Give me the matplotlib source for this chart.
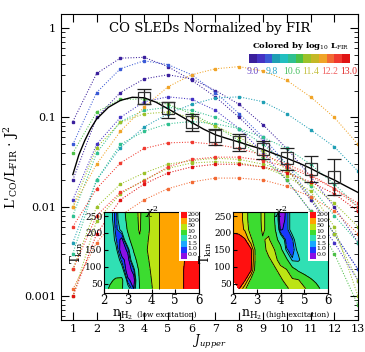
import numpy as np
import matplotlib.pyplot as plt
from matplotlib.colors import ListedColormap

plt.rcParams['font.family'] = 'DejaVu Serif'
plt.rcParams['mathtext.fontset'] = 'dejavuserif'

# colour scale for log10 L_FIR
lfir_colors = ['#3a1f9c', '#4433c4', '#3a5ad6', '#1f9fb4', '#22bfc0', '#2fc090',
               '#4cc046', '#9cc22a', '#c4b826', '#f0a428', '#f26a34', '#f03a30', '#e01414']
lfir_ticks = ['9.0', '9.8', '10.6', '11.4', '12.2', '13.0']
lfir_tick_colors = ['#6a48c8', '#2aa6c8', '#46c060', '#c4c040', '#f06464', '#e02828']

# individual SLEDs (L'CO/LFIR * J^2 at J = 1..13)
j_up = [1, 2, 3, 4, 5, 6, 7, 8, 9, 10, 11, 12, 13]
sled_90 = [0.09, 0.31, 0.46, 0.47, 0.37, 0.26, 0.17, 0.10, 0.055, 0.027, 0.012, 0.005, 0.002]
sled_92 = [0.02, 0.10, 0.19, 0.27, 0.30, 0.27, 0.20, 0.14, 0.083, 0.045, 0.022, 0.010, 0.004]
sled_95 = [0.012, 0.05, 0.10, 0.15, 0.17, 0.16, 0.12, 0.075, 0.04, 0.02, 0.009, 0.004, 0.0015]
sled_98 = [0.05, 0.19, 0.35, 0.43, 0.39, 0.30, 0.19, 0.11, 0.06, 0.03, 0.013, 0.005, 0.002]
sled_100 = [0.004, 0.02, 0.046, 0.078, 0.11, 0.14, 0.165, 0.17, 0.15, 0.11, 0.073, 0.047, 0.025]
sled_106 = [0.003, 0.02, 0.05, 0.07, 0.085, 0.09, 0.085, 0.075, 0.06, 0.045, 0.03, 0.018, 0.01]
sled_108 = [0.008, 0.04, 0.09, 0.12, 0.13, 0.12, 0.10, 0.075, 0.05, 0.03, 0.017, 0.008, 0.004]
sled_110 = [0.04, 0.115, 0.16, 0.16, 0.14, 0.11, 0.08, 0.055, 0.035, 0.02, 0.009, 0.003, 0.0008]
sled_112 = [0.01, 0.046, 0.088, 0.11, 0.115, 0.10, 0.08, 0.06, 0.042, 0.026, 0.013, 0.005, 0.0015]
sled_113 = [0.001, 0.007, 0.014, 0.02, 0.027, 0.031, 0.032, 0.031, 0.028, 0.022, 0.015, 0.006, 0.001]
sled_114 = [0.002, 0.01, 0.018, 0.024, 0.03, 0.033, 0.035, 0.034, 0.03, 0.025, 0.018, 0.011, 0.006]
sled_118 = [0.01, 0.03, 0.07, 0.13, 0.22, 0.30, 0.35, 0.37, 0.33, 0.26, 0.17, 0.10, 0.05]
sled_122 = [0.0012, 0.004, 0.008, 0.012, 0.016, 0.019, 0.021, 0.021, 0.02, 0.017, 0.013, 0.009, 0.005]
sled_124 = [0.006, 0.016, 0.031, 0.045, 0.052, 0.053, 0.05, 0.045, 0.038, 0.03, 0.023, 0.016, 0.01]
sled_126 = [0.002, 0.008, 0.0145, 0.0196, 0.028, 0.034, 0.036, 0.036, 0.033, 0.028, 0.022, 0.016, 0.011]
sled_130 = [0.001, 0.005, 0.012, 0.018, 0.024, 0.028, 0.03, 0.03, 0.028, 0.024, 0.019, 0.014, 0.009]
sleds = [(9.0, sled_90), (9.2, sled_92), (9.5, sled_95), (9.8, sled_98), (10.0, sled_100),
         (10.6, sled_106), (10.8, sled_108), (11.0, sled_110), (11.2, sled_112),
         (11.3, sled_113), (11.4, sled_114), (11.8, sled_118), (12.2, sled_122),
         (12.4, sled_124), (12.6, sled_126), (13.0, sled_130)]

# mean SLED with errors
j_mean = [4, 5, 6, 7, 8, 9, 10, 11, 12]
ratio_mean = [0.167, 0.126, 0.090, 0.062, 0.053, 0.044, 0.035, 0.0265, 0.0215]
ratio_hi = [0.21, 0.15, 0.11, 0.074, 0.066, 0.055, 0.046, 0.037, 0.034]
ratio_lo = [0.14, 0.098, 0.07, 0.049, 0.042, 0.034, 0.026, 0.019, 0.0136]

# two-component model curve
j_model = [1.0, 1.25, 1.5, 1.75, 2.0, 2.5, 3.0, 3.5, 4.0, 4.5, 5.0, 5.5, 6.0, 6.5, 7.0,
           7.5, 8.0, 8.5, 9.0, 9.5, 10.0, 10.5, 11.0, 11.5, 12.0, 12.5, 13.0]
ratio_model = [0.023, 0.038, 0.055, 0.075, 0.096, 0.13, 0.155, 0.168, 0.166, 0.148,
               0.125, 0.105, 0.088, 0.074, 0.064, 0.058, 0.053, 0.048, 0.044, 0.039,
               0.035, 0.031, 0.027, 0.023, 0.020, 0.017, 0.0145]

# chi^2 grids (rows: T_kin from bottom, columns: log n_H2)
n_grid = [2.0, 2.25, 2.5, 2.75, 3.0, 3.25, 3.5, 3.75, 4.0, 4.25, 4.5, 4.75, 5.0, 5.25, 5.5, 5.75, 6.0]
t_grid = [35, 60, 90, 120, 150, 180, 210, 240, 262]
nan = float('nan')
chi2_low = [
    [6, 12, 15, 12, 3, 1.0, 10, 25, 45, 90, 130, 140, 140, 150, 300, 300, 300],
    [6, 8, 12, 15, 1.2, 0.7, 12, 30, 50, 90, 130, 140, 140, 150, 300, 300, 300],
    [5, 5, 5, 3, 0.6, 1.4, 15, 35, 55, 90, 130, 140, 140, 150, 300, 300, 300],
    [5, 5, 4, 1.3, 0.7, 5, 25, 40, 60, 90, 130, 140, 140, 150, 250, 300, 300],
    [5, 4, 2.5, 0.6, 1.2, 12, 35, 45, 65, 90, 130, 140, 140, 140, 140, 160, 160],
    [5, 4, 1.6, 0.8, 6, 25, 45, 40, 65, 90, 130, 140, 140, 140, 140, 140, 140],
    [5, 4, 1.3, 2.5, 12, 32, 55, 30, 65, 90, 130, 140, 140, 140, 140, 140, 140],
    [5, 3, 1.2, 5, 14, 38, 55, 32, 65, 90, 130, 140, 140, 140, 140, 140, 140],
    [5, 3, 1.2, 6, 15, 40, 55, 35, 70, 90, 130, 140, 140, 140, 140, 140, 140],
]
chi2_high = [
    [nan, 220, 60, 20, 15, 25, 15, 20, 30, 45, 60, 60, 60, 30, 15, 8, 5],
    [250, 280, 220, 40, 20, 20, 25, 30, 45, 60, 60, 55, 25, 12, 8, 5, 5],
    [300, 320, 280, 230, 20, 20, 30, 45, 60, 55, 20, 8, 5, 5, 5, 5, 5],
    [350, 330, 290, 280, 25, 25, 45, 60, 40, 15, 1.6, 1.6, 4, 5, 5, 5, 5],
    [350, 320, 280, 250, 25, 40, 60, 50, 18, 1.6, 1.2, 2.5, 5, 5, 5, 5, 5],
    [300, 280, 220, 60, 25, 45, 60, 20, 5, 1.2, 1.4, 4, 5, 5, 5, 5, 5],
    [160, 150, 90, 35, 25, 60, 35, 14, 0.9, 1.2, 3, 5, 5, 5, 5, 5, 5],
    [140, 140, 80, 30, 25, 65, 30, 10, 0.6, 1.2, 3, 5, 5, 5, 5, 5, 5],
    [140, 140, 80, 30, 25, 65, 30, 12, 0.5, 1.2, 3, 5, 5, 5, 5, 5, 5],
]
chi2_levels = [0.001, 1.0, 1.5, 2.0, 10, 50, 100, 200, 1e4]
chi2_colors = ['#8a10e6', '#1838ff', '#18a8ff', '#30e0b4', '#3cdc30', '#bce414', '#ffa400', '#ff1010']
chi2_labels = ['0.0', '1.0', '1.5', '2.0', '10', '50', '100', '200']

fig = plt.figure(figsize=(3.65, 3.52), dpi=100)
ax = fig.add_axes([0.167, 0.092, 0.814, 0.868])

cmap = ListedColormap(lfir_colors)
for logl, vals in sleds:
    c = cmap((logl - 9.0) / 4.0)
    ax.plot(j_up, vals, ls=(0, (1, 1.6)), lw=0.75, color=c, marker='s', ms=1.6, mec=c, mfc=c)

ax.plot(j_model, ratio_model, color='black', lw=1.0)
yerr = [np.array(ratio_mean) - np.array(ratio_lo), np.array(ratio_hi) - np.array(ratio_mean)]
ax.errorbar(j_mean, ratio_mean, yerr=yerr, fmt='s', ms=8, mfc='none', mec='#333333',
            mew=0.9, ecolor='#222222', elinewidth=0.9, capsize=5, capthick=0.9)

ax.set_yscale('log')
ax.set_xlim(0.5, 13)
ax.set_ylim(0.00055, 1.43)
ax.set_xticks(range(1, 14))
ax.set_yticks([0.001, 0.01, 0.1, 1])
ax.set_yticklabels(['0.001', '0.01', '0.1', '1'])
ax.tick_params(which='both', direction='in', top=True, right=True, labelsize=8)
ax.tick_params(which='major', length=6)
ax.tick_params(which='minor', length=3)
ax.set_xlabel(r'$J_{upper}$', fontsize=8.5)
ax.xaxis.set_label_coords(0.5, -0.045)
ax.set_ylabel(r"L'$_{\rm CO}$/L$_{\rm FIR}$ $\cdot$ J$^2$", fontsize=9.5)
ax.yaxis.set_label_coords(-0.135, 0.5)
ax.text(0.5, 0.952, 'CO SLEDs Normalized by FIR', transform=ax.transAxes,
        ha='center', va='center', fontsize=9.5)

# colour bar for L_FIR
cax = fig.add_axes([249 / 365, 1 - 63 / 352, 101 / 365, 9 / 352])
cax.imshow([list(range(len(lfir_colors)))], cmap=cmap, aspect='auto')
cax.set_xticks([])
cax.set_yticks([])
for s in cax.spines.values():
    s.set_visible(False)
fig.text(301 / 365, 1 - 46 / 352, r'Colored by log$_{10}$ L$_{\rm FIR}$', ha='center',
         va='center', fontsize=6, fontweight='bold')
for i, (lab, col) in enumerate(zip(lfir_ticks, lfir_tick_colors)):
    fig.text((253 + i * 19.2) / 365, 1 - 71 / 352, lab, ha='center', va='center',
             fontsize=7, color=col, family='Liberation Serif')

# chi^2 insets
ccmap = ListedColormap(chi2_colors)
log_levels = np.log10(chi2_levels)
panels = [(104, chi2_low, '(low excitation)'), (233, chi2_high, '(high excitation)')]
for x0, chi2, tag in panels:
    iax = fig.add_axes([x0 / 365, 1 - 293 / 352, 95 / 365, 81 / 352], zorder=5)
    z = np.log10(np.array(chi2, dtype=float))
    iax.contourf(n_grid, t_grid, z, levels=log_levels, colors=chi2_colors)
    iax.contour(n_grid, t_grid, z, levels=log_levels[1:-1], colors='black', linewidths=0.6)
    iax.set_xlim(2, 6)
    iax.set_ylim(22, 262)
    iax.set_xticks([2, 3, 4, 5, 6])
    iax.set_yticks([50, 100, 150, 200, 250])
    iax.tick_params(axis='x', labelsize=8.5, direction='in', length=3, pad=1)
    iax.tick_params(axis='y', labelsize=6.5, direction='in', length=3, pad=1)
    iax.set_ylabel(r'T$_{\rm kin}$', fontsize=8.5, labelpad=0)
    iax.text(0.5, 1.0, r'$\chi^2$', transform=iax.transAxes, ha='center', va='center',
             fontsize=8)
    iax.text(0.08, -0.27, r'n$_{\rm H_2}$', transform=iax.transAxes, fontsize=9,
             va='center')
    iax.text(0.35, -0.27, tag, transform=iax.transAxes, fontsize=5.5, va='center')
    # small colour key
    bax = iax.inset_axes([0.79, 0.40, 0.21, 0.60])
    bax.set_facecolor('white')
    bax.set_xticks([])
    bax.set_yticks([])
    for s in bax.spines.values():
        s.set_visible(False)
    kax = iax.inset_axes([0.81, 0.42, 0.06, 0.58])
    kax.imshow(np.arange(len(chi2_colors))[::-1].reshape(-1, 1), cmap=ccmap,
               aspect='auto', interpolation='nearest')
    kax.set_xticks([])
    kax.set_yticks([])
    for s in kax.spines.values():
        s.set_visible(False)
    for i, lab in enumerate(chi2_labels[::-1]):
        bax.text(0.42, 0.95 - i * 0.118, lab, transform=bax.transAxes, fontsize=4.5,
                 va='center', ha='left')

fig.savefig('out.png', dpi=100)
